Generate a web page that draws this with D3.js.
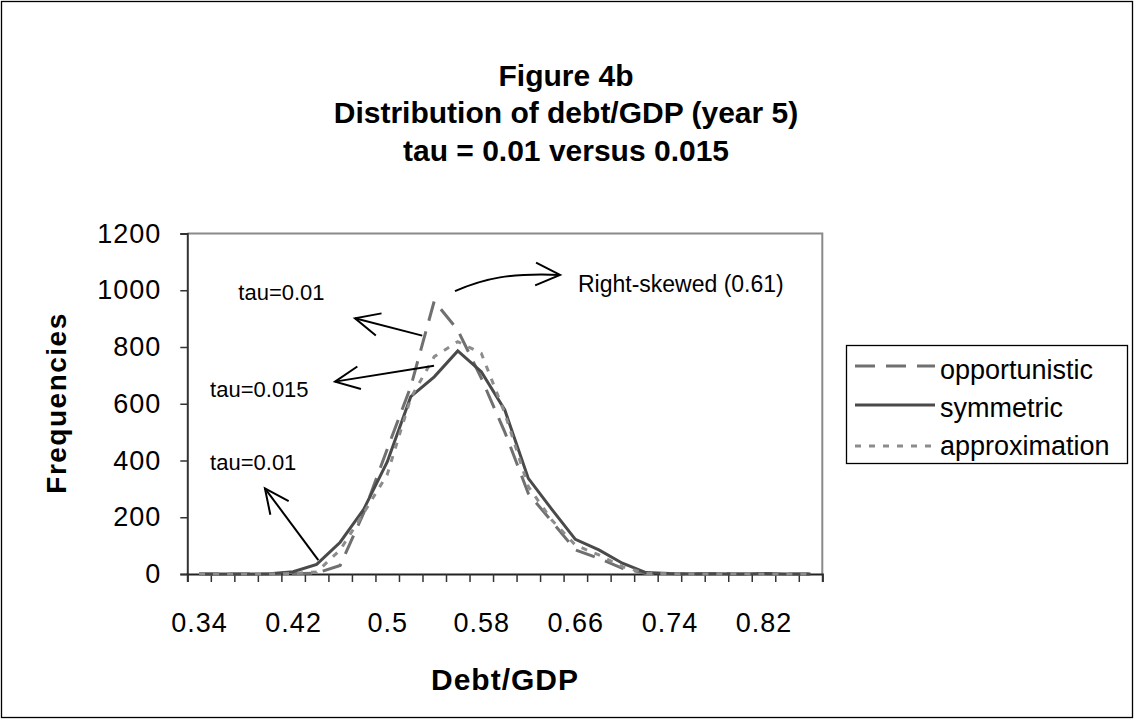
<!DOCTYPE html>
<html><head><meta charset="utf-8">
<script src="https://cdn.jsdelivr.net/npm/d3@7/dist/d3.min.js"></script>
<style>
body{margin:0;background:#fff}
svg{display:block}
text{font-family:"Liberation Sans",Arial,Helvetica,sans-serif;fill:#000}
</style>
</head><body>
<svg id="chart" width="1135" height="720"></svg>
<script>
// ---- data ----
const categories = [0.34,0.36,0.38,0.40,0.42,0.44,0.46,0.48,0.50,0.52,0.54,0.56,0.58,0.60,0.62,0.64,0.66,0.68,0.70,0.72,0.74,0.76,0.78,0.80,0.82,0.84,0.86];
const opportunistic = [0,0,0,0,1,3,30,215,440,660,962,860,690,500,284,185,85,55,20,2,1,0,1,0,1,0,0];
const symmetric     = [0,0,0,1,8,34,112,228,395,625,695,786,713,578,337,228,122,85,38,5,2,1,1,0,2,0,0];
const approximation = [0,0,0,0,2,7,85,215,350,620,766,819,778,567,308,190,102,67,26,2,1,0,0,1,0,0,0];
const seriesNames = ["opportunistic","symmetric","approximation"];
const yTicks = [0,200,400,600,800,1000,1200];
const xLabelEvery = 4;
const titleLines = ["Figure 4b","Distribution of debt/GDP (year 5)","tau = 0.01 versus 0.015"];
const xTitle = "Debt/GDP";
const yTitle = "Frequencies";
// annotations in chart units (u: category-slot axis, v: frequency)
const noteTexts = [
  {text:"tau=0.01", u:2.17, v:966},
  {text:"tau=0.015", u:0.97, v:625},
  {text:"tau=0.01", u:0.97, v:367},
  {text:"Right-skewed (0.61)", u:16.61, v:995}
];
const straightArrows = [
  {u0:9.99, v0:840, u1:7.13, v1:901},
  {u0:10.49, v0:734, u1:6.28, v1:678},
  {u0:5.57, v0:49, u1:3.30, v1:302}
];
const curvedArrow = {pts:[[11.38,997],[12.66,1043],[13.72,1061],[15.85,1054]]};

// ---- layout ----
const W = 1135, H = 720;
const plot = {left:187.3, right:822.3, top:233.5, bottom:574};
const svg = d3.select("#chart");

svg.append("rect").attr("x",1.5).attr("y",1.5).attr("width",W-4).attr("height",H-4)
  .attr("fill","#fff").attr("stroke","#000").attr("stroke-width",1.3);

const x = d3.scaleLinear().domain([0, categories.length]).range([plot.left, plot.right]);
const y = d3.scaleLinear().domain([0, 1200]).range([plot.bottom, plot.top]);

// plot frame (gray top/right)
svg.append("path")
  .attr("d", `M${plot.left},${plot.top}H${plot.right}V${plot.bottom}`)
  .attr("fill","none").attr("stroke","#8a8a8a").attr("stroke-width",2);

// title
const title = svg.append("text").attr("text-anchor","middle")
  .attr("font-weight","bold").attr("font-size",30);
[86,123,161].forEach((b,i)=>{
  title.append("tspan").attr("x",566).attr("y",b).text(titleLines[i]);
});

// y axis
const yAxis = svg.append("g").attr("transform",`translate(${plot.left},0)`)
  .call(d3.axisLeft(y).tickValues(yTicks).tickSize(7).tickPadding(19).tickFormat(d3.format("d")));
yAxis.select(".domain").attr("stroke","#333").attr("stroke-width",2);
yAxis.selectAll(".tick line").attr("stroke","#333").attr("stroke-width",1.5);
yAxis.selectAll(".tick text").attr("font-size",27).attr("font-family",null).attr("letter-spacing",1);

// x axis ticks (between categories)
const xAxis = svg.append("g").attr("transform",`translate(0,${plot.bottom})`)
  .call(d3.axisBottom(x).tickValues(d3.range(categories.length+1)).tickSize(8).tickFormat(""));
xAxis.select(".domain").attr("stroke","#222").attr("stroke-width",2);
xAxis.selectAll(".tick line").attr("stroke","#333").attr("stroke-width",1.5);
// x labels (every 4th category, centered in slot)
const labelIdx = categories.map((c,i)=>i).filter(i=>i % xLabelEvery === 0);
const xLab = svg.append("g").attr("transform",`translate(0,${plot.bottom})`)
  .call(d3.axisBottom(x).tickValues(labelIdx.map(i=>i+0.5)).tickSize(0).tickPadding(39)
    .tickFormat(v=>String(categories[Math.round(v-0.5)])));
xLab.select(".domain").remove();
xLab.selectAll(".tick text").attr("font-size",27).attr("font-family",null).attr("letter-spacing",1);

// axis titles
svg.append("text").attr("transform","translate(66,403) rotate(-90)")
  .attr("text-anchor","middle").attr("font-weight","bold").attr("font-size",28)
  .attr("letter-spacing",1.5).text(yTitle);
svg.append("text").attr("x",505).attr("y",690)
  .attr("text-anchor","middle").attr("font-weight","bold").attr("font-size",30)
  .attr("letter-spacing",1).text(xTitle);

// series
const styles = {
  opportunistic:{stroke:"#707070", dash:"20,11", width:3},
  symmetric:{stroke:"#4a4a4a", dash:null, width:3},
  approximation:{stroke:"#8c8c8c", dash:"6,8", width:3}
};
const dataBy = {opportunistic, symmetric, approximation};
const line = d3.line().x((d,i)=>x(i+0.5)).y(d=>y(d));
seriesNames.forEach(n=>{
  svg.append("path").datum(dataBy[n]).attr("d",line)
    .attr("fill","none").attr("stroke",styles[n].stroke)
    .attr("stroke-width",styles[n].width)
    .attr("stroke-dasharray",styles[n].dash)
    .attr("stroke-linejoin","miter");
});

// annotations
noteTexts.forEach(t=>{
  svg.append("text").attr("x",x(t.u)).attr("y",y(t.v))
    .attr("font-size", t.text.startsWith("Right") ? 23 : 22).text(t.text);
});
function arrowHead(tx,ty,fx,fy){
  const a = Math.atan2(fy-ty, fx-tx), L = 27, h = 25*Math.PI/180;
  return `M${tx+L*Math.cos(a+h)},${ty+L*Math.sin(a+h)}L${tx},${ty}L${tx+L*Math.cos(a-h)},${ty+L*Math.sin(a-h)}`;
}
const ann = svg.append("g").attr("fill","none").attr("stroke","#000").attr("stroke-width",2);
straightArrows.forEach(a=>{
  const x0=x(a.u0), y0=y(a.v0), x1=x(a.u1), y1=y(a.v1);
  ann.append("path").attr("d",`M${x0},${y0}L${x1},${y1}`);
  ann.append("path").attr("d",arrowHead(x1,y1,x0,y0));
});
{
  const p = curvedArrow.pts.map(([u,v])=>[x(u),y(v)]);
  ann.append("path").attr("d",`M${p[0]}C${p[1]} ${p[2]} ${p[3]}`);
  ann.append("path").attr("d",arrowHead(p[3][0],p[3][1],p[2][0],p[2][1]));
}

// legend
const lg = svg.append("g");
lg.append("rect").attr("x",846.5).attr("y",345.5).attr("width",281).attr("height",118)
  .attr("fill","#fff").attr("stroke","#000").attr("stroke-width",1.3);
const lineYs = [366,405,446], textYs = [379,417,455];
seriesNames.forEach((n,i)=>{
  lg.append("line").attr("x1",855).attr("x2",935).attr("y1",lineYs[i]).attr("y2",lineYs[i])
    .attr("stroke",styles[n].stroke).attr("stroke-width",3).attr("stroke-dasharray",styles[n].dash);
  lg.append("text").attr("x",940).attr("y",textYs[i]).attr("font-size",27).text(n);
});
</script>
</body></html>
